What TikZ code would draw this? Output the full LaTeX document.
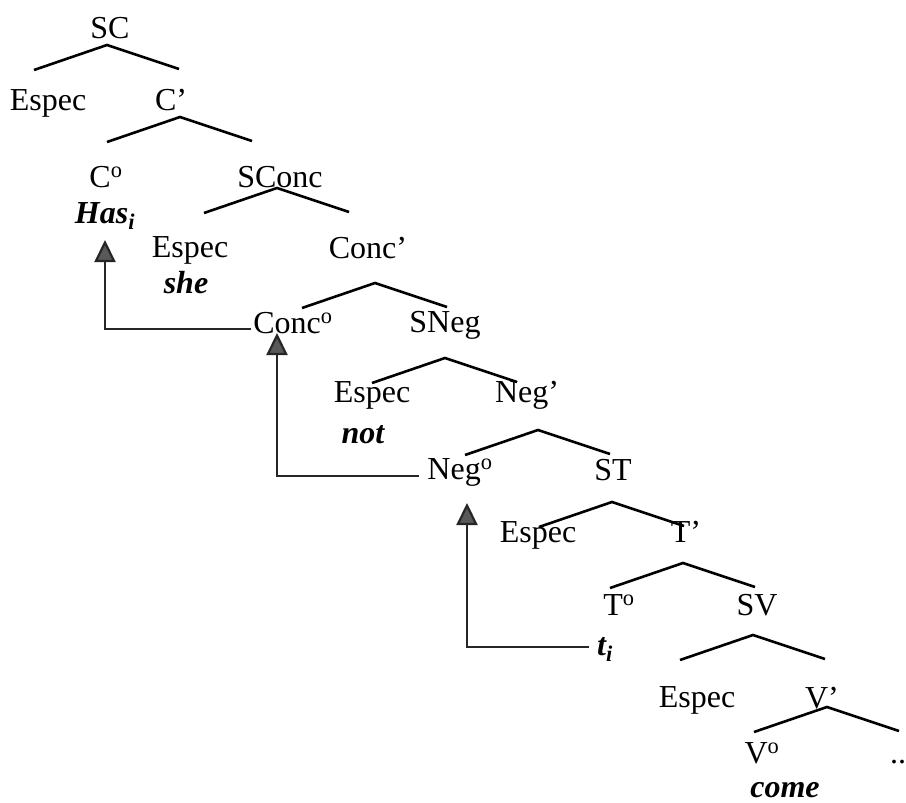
\documentclass[tikz,border=0pt]{standalone}
\usepackage{fontspec}
\setmainfont{Liberation Serif}
\usetikzlibrary{arrows.meta}

\tikzset{
  lbl/.style={anchor=base, inner sep=0pt, font=\fontsize{32}{38}\selectfont},
  word/.style={lbl, font=\fontsize{32}{38}\selectfont\bfseries\itshape},
  branch/.style={line width=2.6pt},
  move/.style={line width=2.2pt, draw=black!85,
    -{Triangle[width=21pt, length=22pt, fill=black!65]}}
}

\begin{document}
\begin{tikzpicture}[x=1pt, y=-1pt]
\useasboundingbox (0,0) rectangle (906,803);

% Labels of the tree
\node[lbl] (sc) at (110,38) {SC};
\node[lbl] (espec1) at (48,110) {Espec};
\node[lbl] (cbar) at (171,110) {C’};
\node[lbl] (c0) at (106,187) {C\textsuperscript{o}};
\node[word] (hasi) at (105,223) {Has\textsubscript{i}};
\node[lbl] (sconc) at (280,187) {SConc};
\node[lbl] (espec2) at (190,257) {Espec};
\node[word] (she) at (186,293) {she};
\node[lbl] (concbar) at (368,258) {Conc’};
\node[lbl] (conc0) at (293,333) {Conc\textsuperscript{o}};
\node[lbl] (sneg) at (445,332) {SNeg};
\node[lbl] (espec3) at (372,402) {Espec};
\node[word] (neg) at (363,443) {not};
\node[lbl] (negbar) at (527,402) {Neg’};
\node[lbl] (neg0) at (460,479) {Neg\textsuperscript{o}};
\node[lbl] (st) at (613,480) {ST};
\node[lbl] (espec4) at (538,542) {Espec};
\node[lbl] (tbar) at (686,542) {T’};
\node[lbl] (t0) at (619,615) {T\textsuperscript{o}};
\node[lbl] (sv) at (757,615) {SV};
\node[word] (ti) at (605,655) {t\textsubscript{i}};
\node[lbl] (espec5) at (697,707) {Espec};
\node[lbl] (vbar) at (822,708) {V’};
\node[lbl] (v0) at (762,763) {V\textsuperscript{o}};
\node[lbl] (dots) at (898,763) {..};
\node[word] (come) at (785,797) {come};

% Branches: fork point under each parent
\foreach \p/\fx/\fy in {sc/107/45, cbar/180/117, sconc/277/188, concbar/375/283,
    sneg/445/358, negbar/538/430, st/612/502, tbar/683/563, sv/753/635, vbar/827/707}
{
  \coordinate (\p-fork) at (\fx,\fy);
  \draw[branch] (\p-fork) ++(-73,25) -- (\p-fork) -- ++(72,24);
}

% Head movement
\draw[move] ([xshift=-2pt, yshift=4pt]conc0.base west) -| ([yshift=-17pt]hasi.base);
\draw[move] ([xshift=-8pt, yshift=3pt]neg0.base west) -| ([xshift=-16pt]conc0.base);
\draw[move] ([xshift=-8pt, yshift=8pt]ti.base west) -| ([xshift=7pt, yshift=-24pt]neg0.base);

\end{tikzpicture}
\end{document}
